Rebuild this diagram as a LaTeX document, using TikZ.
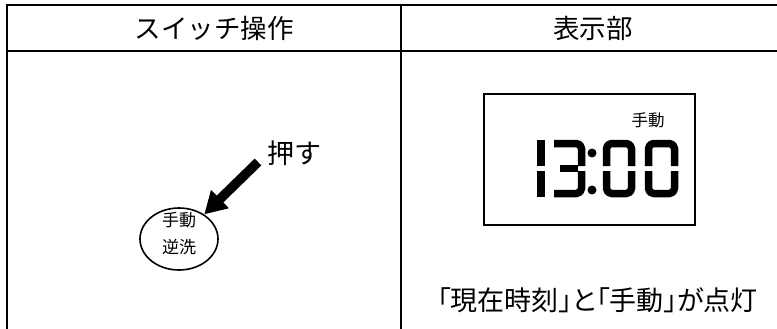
\documentclass[tikz,border=0pt]{standalone}
\usepackage{fontspec}
\newfontfamily\jp{Noto Sans CJK JP}
\newfontfamily\jpp[RawFeature=+palt]{Noto Sans CJK JP}
\usetikzlibrary{shapes.geometric,arrows.meta}
\begin{document}
\begin{tikzpicture}[x=1pt,y=-1pt,
  rule/.style={line width=2pt, draw=black},
  lcd/.style={line width=2.4pt, draw=black},
  seg/.style={line width=7.5pt, line cap=butt, line join=round, rounded corners=5pt},
  head/.style={font=\jp\fontsize{26.5}{26.5}\selectfont, inner sep=0pt},
  big/.style={font=\jpp\fontsize{27}{27}\selectfont, inner sep=0pt},
  small/.style={font=\jp\fontsize{17}{27}\selectfont, inner sep=0pt, align=center},
  btnshape/.style={ellipse, draw=black, line width=1.6pt, minimum width=78pt, minimum height=62pt, inner sep=0pt},
  push/.style={line width=9.5pt, -{Triangle[width=24pt,length=22pt]}}
]
\useasboundingbox (0,0) rectangle (777,329);
% table
\draw[rule] (7,329) -- (7,5) -- (777,5);
\draw[rule] (7,51) -- (777,51);
\draw[rule] (401,5) -- (401,329);
\node[head] (h1) at (214,28) {スイッチ操作};
\node[head] (h2) at (593,28) {表示部};
% left cell
\node[btnshape] (btn) at (179,239) {};
\node[small] (btnlabel) at (179,233.5) {手動\\逆洗};
\node[font=\jp\fontsize{27}{27}\selectfont, inner sep=0pt] (pushlabel) at (294,153) {押す};
\coordinate (s) at (258,162);
\draw[push] (s) -- (btn);
% right cell
\node[lcd, rectangle, minimum width=211pt, minimum height=131pt, inner sep=0pt] (lcdbox) at (589.5,159.5) {};
\node[font=\jp\fontsize{16.5}{16.5}\selectfont, inner sep=0pt] (lcdlabel) at (648,120) {手動};
% digit 1
\draw[seg] (541,140) -- (541,166);
\draw[seg] (541,171) -- (541,197);
% digit 3
\draw[seg] (554,143.5) -- (581.5,143.5) -- (581.5,166);
\draw[seg] (560,168.5) -- (578,168.5);
\draw[seg] (581.5,171) -- (581.5,193.5) -- (554,193.5);
% colon
\fill (592,153) circle (4.5pt);
\fill (592,190) circle (4.5pt);
% digit 0
\draw[seg] (606.5,166) -- (606.5,143.5) -- (631.5,143.5) -- (631.5,166);
\draw[seg] (606.5,171) -- (606.5,193.5) -- (631.5,193.5) -- (631.5,171);
% digit 0
\draw[seg] (648.5,166) -- (648.5,143.5) -- (674.5,143.5) -- (674.5,166);
\draw[seg] (648.5,171) -- (648.5,193.5) -- (674.5,193.5) -- (674.5,171);
\node[big] (status) at (597.5,300) {「現在時刻」と「手動」が点灯};
\end{tikzpicture}
\end{document}
